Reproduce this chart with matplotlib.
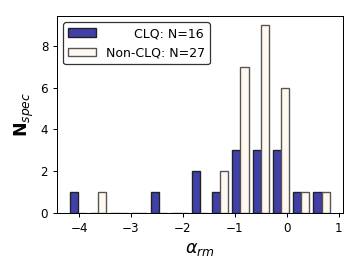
import numpy as np
import matplotlib
matplotlib.use("Agg")
import matplotlib.pyplot as plt

# histogram bins (alpha_rm)
bin_lo = -4.215
bin_hi = 0.867
n_bins = 13
clq_counts = [1, 0, 0, 0, 1, 0, 2, 1, 3, 3, 3, 1, 1]
nonclq_counts = [0, 1, 0, 0, 0, 0, 0, 2, 7, 9, 6, 1, 1]
labels = ["       CLQ: N=16", "Non-CLQ: N=27"]
colors = ["#4040a8", "#fff8f0"]
edgecolors = ["#222222", "#555555"]

edges = np.linspace(bin_lo, bin_hi, n_bins + 1)
centers = 0.5 * (edges[:-1] + edges[1:])

fig = plt.figure(figsize=(4, 3), dpi=90)
ax = fig.add_axes([0.158, 0.212, 0.794, 0.729])

n, b, patches = ax.hist([centers, centers], bins=edges,
                        weights=[clq_counts, nonclq_counts],
                        color=colors, label=labels, linewidth=1.1)
for grp, ec in zip(patches, edgecolors):
    for p in grp:
        p.set_edgecolor(ec)

ax.tick_params(labelsize=9.5)
ax.set_xlabel(r'$\alpha_{rm}$', fontsize=14)
ax.set_ylabel(r'$\mathbf{N}_{spec}$', fontsize=14)
ax.set_yticks([0, 2, 4, 6, 8])
leg = ax.legend(loc='upper left', fontsize=10, framealpha=1, handlelength=2.2)
leg.get_frame().set_edgecolor('#333333')

fig.savefig("out.png", dpi=90)
